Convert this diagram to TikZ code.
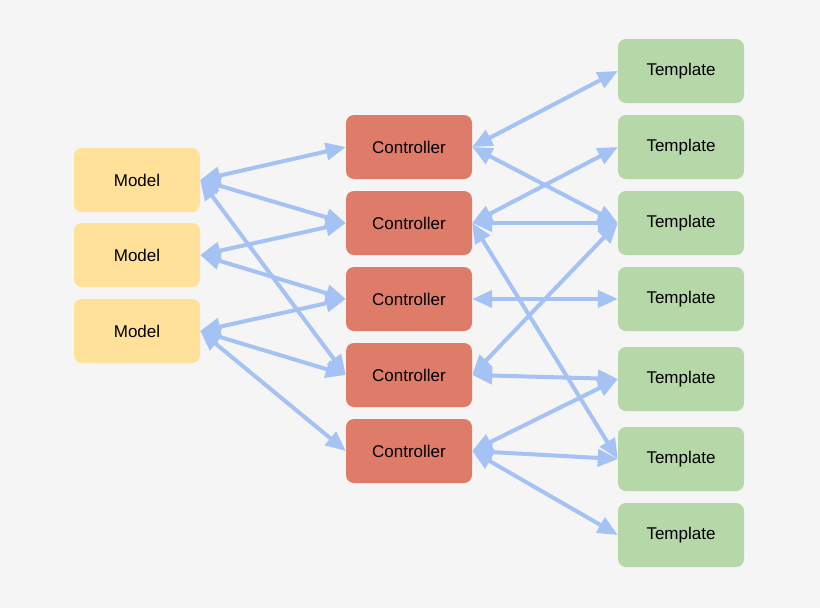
\documentclass[tikz,border=0pt]{standalone}
\usepackage{fontspec}
\setmainfont{Liberation Sans}
\usetikzlibrary{arrows.meta}
\definecolor{bg}{HTML}{F5F5F5}
\definecolor{mc}{HTML}{FFE199}
\definecolor{cc}{HTML}{DE7C69}
\definecolor{tc}{HTML}{B6D7A8}
\definecolor{ac}{HTML}{A4C2F4}
\begin{document}
\begin{tikzpicture}[x=1pt,y=-1pt,
  box/.style={rounded corners=8pt,minimum width=126pt,minimum height=64pt,inner sep=0pt,font=\fontsize{17}{20}\selectfont},
  model/.style={box,fill=mc},ctrl/.style={box,fill=cc},tmpl/.style={box,fill=tc},
  link/.style={draw=ac,line width=4pt,{Triangle[length=20pt,width=17pt]}-{Triangle[length=20pt,width=17pt]}}]
\fill[bg] (0,0) rectangle (820,608);
\foreach \n/\y in {1/180,2/255,3/331} \node[model] (m\n) at (137,\y) {Model};
\foreach \n/\y in {1/147,2/223,3/299,4/375,5/451} \node[ctrl] (c\n) at (409,\y) {Controller};
\foreach \n/\y in {1/71,2/147,3/223,4/299,5/379,6/459,7/535} \node[tmpl] (t\n) at (681,\y) {Template};
\foreach \a/\b in {m1/c1,m1/c2,m1/c4,m2/c2,m2/c3,m3/c3,m3/c4,m3/c5,
  c1/t1,c1/t3,c2/t2,c2/t3,c2/t6,c3/t4,c4/t3,c4/t5,c5/t5,c5/t6,c5/t7}
  \draw[link] (\a.east) -- (\b.west);
\end{tikzpicture}
\end{document}
